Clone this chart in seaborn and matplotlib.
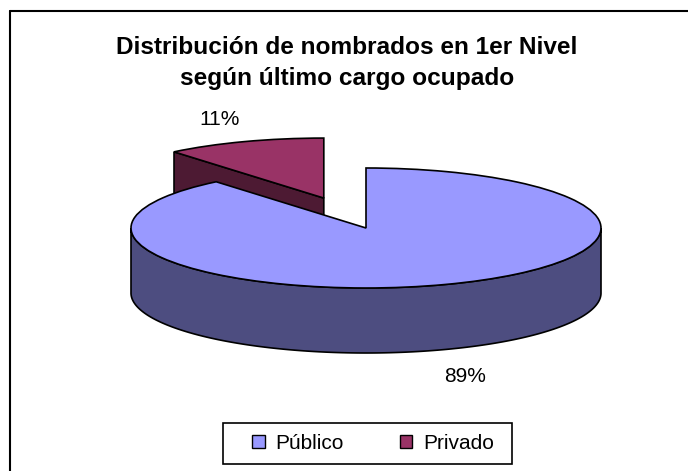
import numpy as np
import seaborn as sns
import matplotlib.pyplot as plt
from matplotlib.patches import Patch, Rectangle
from matplotlib.lines import Line2D

# datos
categorias = ['Privado', 'Público']
valores = [11, 89]
etiquetas = ['11%', '89%']
colores_sup = ['#993366', '#9999FF']
colores_lado = ['#4D1A33', '#4D4D80']
separar = [0.53, 0]
titulo = 'Distribución de nombrados en 1er Nivel\nsegún último cargo ocupado'

sns.set_style('white')
plt.rcParams['font.family'] = ['Liberation Sans', 'DejaVu Sans']
plt.rcParams['text.color'] = 'black'

W, H = 688, 471
fig = plt.figure(figsize=(W / 100, H / 100), dpi=100)
ax = fig.add_axes([0, 0, 1, 1])

# centro y radios de la torta en pixeles (vista oblicua)
cx, cy, rx, ry = 366, 228, 235, 60
prof = 65 / ry

wedges, _ = ax.pie(valores, startangle=90, explode=separar, colors=colores_sup,
                   wedgeprops=dict(edgecolor='black', linewidth=1.2))
ax.set_aspect('auto')
ax.set_xlim((0 - cx) / rx, (W - cx) / rx)
ax.set_ylim((cy - H) / ry, cy / ry)
ax.axis('off')

for i, w in enumerate(wedges):
    x0, y0 = w.center
    t1, t2 = w.theta1, w.theta2
    w.set_zorder(2 * i + 2)
    z = 2 * i + 1
    # pared exterior (solo la parte frontal)
    for k in (0, 360):
        lo, hi = max(t1, 180 + k), min(t2, 360 + k)
        if hi > lo:
            a = np.radians(np.linspace(lo, hi, 300))
            xs = np.concatenate([x0 + np.cos(a), x0 + np.cos(a[::-1])])
            ys = np.concatenate([y0 + np.sin(a), y0 + np.sin(a[::-1]) - prof])
            ax.fill(xs, ys, facecolor=colores_lado[i], edgecolor='black',
                    linewidth=1.2, zorder=z)
    # caras radiales visibles
    for t, visible in ((t1, np.cos(np.radians(t1)) > 1e-6),
                       (t2, np.cos(np.radians(t2)) < -1e-6)):
        if visible:
            c, s = np.cos(np.radians(t)), np.sin(np.radians(t))
            ax.fill([x0, x0 + c, x0 + c, x0], [y0, y0 + s, y0 + s - prof, y0 - prof],
                    facecolor=colores_lado[i], edgecolor='black', linewidth=1.2, zorder=z)
    # etiqueta de porcentaje
    m = np.radians((t1 + t2) / 2)
    if np.sin(m) < 0:
        lx, ly = x0 + 1.25 * np.cos(m), y0 + 1.25 * np.sin(m) - prof - 0.22
    else:
        lx, ly = x0 + 1.4 * np.cos(m) + 0.03, y0 + 1.4 * np.sin(m)
    ax.text(lx, ly, etiquetas[i], ha='center', va='center', fontsize=15, zorder=10)

fig.text(347 / W, 1 - 63 / H, titulo, ha='center', va='center', fontsize=17.6,
         fontweight='bold', linespacing=1.5)

# leyenda
fig.add_artist(Rectangle((223 / W, 1 - 464 / H), 289 / W, 41 / H, transform=fig.transFigure,
                         facecolor='white', edgecolor='black', linewidth=1.2))
orden = [1, 0]
handles = [Patch(facecolor=colores_sup[i], edgecolor='black', label=categorias[i]) for i in orden]
leg = fig.legend(handles=handles, loc='center left', bbox_to_anchor=(242 / W, 1 - 443.5 / H),
                 ncol=2, frameon=False, fontsize=15, borderpad=0, handlelength=0.6,
                 handleheight=0.6, handletextpad=0.5, columnspacing=2.7)

# borde del area del grafico
fig.add_artist(Line2D([9.5 / W, 1], [1 - 10.5 / H] * 2, color='black', linewidth=1.5))
fig.add_artist(Line2D([9.5 / W] * 2, [0, 1 - 10.5 / H], color='black', linewidth=1.5))

fig.savefig('out.png', dpi=100)
